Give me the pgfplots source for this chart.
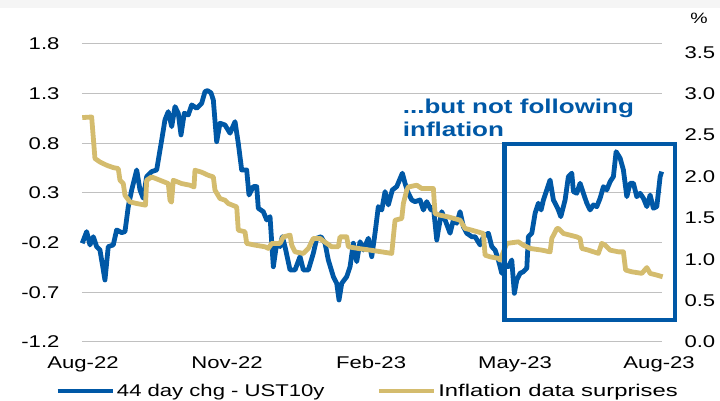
\documentclass[border=0pt]{standalone}
\usepackage{fontspec}
\setmainfont{Liberation Sans}[FakeStretch=1.3]
\usepackage{pgfplots}
\pgfplotsset{compat=1.18}
\definecolor{ustblue}{RGB}{0,88,166}
\definecolor{inftan}{RGB}{212,188,110}
\definecolor{gridgray}{RGB}{192,192,192}

% x = months since Aug-22
\pgfplotstableread{
m v
-0.015 -0.206
0.077 -0.089
0.146 -0.223
0.215 -0.140
0.285 -0.240
0.354 -0.274
0.417 -0.455
0.458 -0.576
0.527 -0.240
0.631 -0.223
0.702 -0.072
0.806 -0.099
0.875 -0.089
0.944 0.163
1.015 0.331
1.119 0.532
1.188 0.331
1.256 0.247
1.327 0.465
1.431 0.515
1.535 0.532
1.640 0.834
1.708 1.036
1.777 1.119
1.848 0.968
1.917 1.170
1.985 1.103
2.042 0.885
2.110 1.103
2.194 1.086
2.265 1.187
2.369 1.153
2.473 1.204
2.542 1.321
2.594 1.331
2.667 1.308
2.715 1.237
2.785 0.817
2.854 1.002
2.958 0.985
3.063 0.902
3.167 1.018
3.235 0.801
3.306 0.532
3.410 0.532
3.458 0.280
3.548 0.364
3.619 0.364
3.652 0.146
3.756 0.112
3.827 0.029
3.896 0.062
3.965 -0.442
4.035 -0.206
4.104 -0.240
4.152 -0.140
4.208 -0.240
4.313 -0.475
4.417 -0.475
4.521 -0.341
4.590 -0.475
4.694 -0.475
4.798 -0.307
4.869 -0.156
4.958 -0.140
5.042 -0.206
5.110 -0.374
5.215 -0.542
5.285 -0.609
5.333 -0.777
5.390 -0.609
5.494 -0.542
5.563 -0.442
5.631 -0.206
5.702 -0.391
5.771 -0.190
5.840 -0.274
5.944 -0.156
6.015 -0.341
6.083 -0.105
6.152 0.163
6.223 0.129
6.292 0.314
6.360 0.180
6.444 0.331
6.535 0.364
6.652 0.499
6.708 0.398
6.777 0.297
6.848 0.230
6.917 0.213
7.021 0.230
7.090 0.129
7.160 0.213
7.250 0.129
7.298 0.163
7.369 -0.173
7.402 -0.072
7.473 0.112
7.542 0.029
7.646 -0.105
7.715 0.029
7.785 -0.005
7.854 0.112
7.923 -0.039
7.994 -0.105
8.098 -0.140
8.167 -0.140
8.271 -0.223
8.340 -0.140
8.444 -0.105
8.515 -0.240
8.583 -0.274
8.652 -0.374
8.723 -0.508
8.792 -0.425
8.860 -0.442
8.931 -0.374
8.985 -0.710
9.035 -0.576
9.104 -0.508
9.173 -0.492
9.244 -0.458
9.277 -0.140
9.348 -0.105
9.417 0.096
9.485 0.197
9.542 0.129
9.590 0.230
9.660 0.331
9.729 0.431
9.798 0.230
9.869 0.163
9.902 0.129
9.952 0.062
10.042 0.230
10.110 0.465
10.181 0.500
10.215 0.314
10.285 0.297
10.354 0.398
10.423 0.297
10.494 0.197
10.563 0.129
10.631 0.180
10.702 0.163
10.771 0.247
10.840 0.364
10.910 0.331
10.979 0.414
11.048 0.465
11.104 0.716
11.188 0.650
11.256 0.532
11.327 0.263
11.396 0.398
11.465 0.398
11.535 0.263
11.604 0.297
11.673 0.247
11.744 0.163
11.813 0.280
11.881 0.146
11.952 0.163
12.021 0.465
12.054 0.515
}\ustchg

\pgfplotstableread{
m r
-0.015 2.711
0.181 2.718
0.250 2.216
0.354 2.175
0.494 2.135
0.631 2.107
0.735 2.095
0.771 1.954
0.840 1.914
0.875 1.773
0.979 1.692
1.119 1.673
1.302 1.653
1.327 1.954
1.431 1.994
1.604 1.954
1.777 1.914
1.813 1.713
1.844 1.689
1.881 1.954
2.056 1.914
2.229 1.894
2.313 1.873
2.333 2.075
2.473 2.051
2.610 2.014
2.715 1.994
2.750 1.834
2.854 1.733
2.958 1.713
3.027 1.673
3.202 1.632
3.235 1.351
3.375 1.331
3.410 1.191
3.583 1.170
3.792 1.150
3.860 1.130
3.931 1.191
4.104 1.191
4.173 1.270
4.313 1.291
4.348 1.170
4.417 1.089
4.590 1.070
4.694 1.130
4.798 1.251
4.938 1.251
5.042 1.206
5.181 1.150
5.319 1.150
5.354 1.270
5.494 1.270
5.527 1.150
5.735 1.130
5.979 1.110
6.223 1.089
6.431 1.070
6.465 1.270
6.500 1.472
6.640 1.492
6.673 1.673
6.744 1.834
6.777 1.873
6.952 1.894
7.056 1.854
7.298 1.854
7.333 1.552
7.438 1.532
7.610 1.511
7.854 1.472
7.958 1.372
8.098 1.351
8.340 1.311
8.375 1.049
8.479 1.029
8.652 1.010
8.688 0.989
8.827 1.191
9.069 1.210
9.173 1.170
9.313 1.130
9.556 1.110
9.729 1.089
9.765 1.251
9.869 1.369
9.902 1.372
10.006 1.311
10.285 1.270
10.354 1.251
10.390 1.130
10.527 1.110
10.735 1.070
10.806 1.191
10.875 1.170
10.979 1.110
11.152 1.089
11.256 1.089
11.302 0.869
11.431 0.848
11.640 0.829
11.744 0.899
11.813 0.829
11.952 0.808
12.073 0.788
}\inflsurp

\begin{document}
\begin{tikzpicture}[x=1pt,y=1pt]
\useasboundingbox (-82,-59) rectangle (638,342);
\fill[black!4] (-82,334) rectangle (638,342);
\pgfplotsset{
  base/.style={
    scale only axis, width=580pt, height=298pt,
    at={(0,0)}, anchor=south west,
    xmin=-0.02, xmax=12.06,
    axis line style={draw=none},
    tick style={draw=none},
    tick label style={font=\fontsize{17}{20}\selectfont, text=black},
    clip=false,
  }
}
\begin{axis}[base,
  ymin=-1.2, ymax=1.8,
  ytick={-1.2,-0.7,-0.2,0.3,0.8,1.3,1.8},
  yticklabels={-1.2,-0.7,-0.2,0.3,0.8,1.3,1.8},
  yticklabel style={xshift=-19pt},
  xtick={0,3,6,9,12},
  xticklabels={Aug-22,Nov-22,Feb-23,May-23,Aug-23},
  xticklabel style={yshift=-11pt},
  ymajorgrids, grid style={gridgray, line width=1pt},
  legend columns=2,
  legend cell align=left,
  legend style={at={(axis description cs:-0.0466,-0.1644)}, anchor=west,
    draw=none, fill=none, font=\fontsize{17}{20}\selectfont,
    inner sep=0pt,
    /tikz/every even column/.append style={column sep=50pt}},
  legend image code/.code={\draw[#1] (0pt,0pt) -- (55pt,0pt);},
]
\addplot[ustblue, line width=4.8pt, line join=round] table[x=m, y=v] {\ustchg};
\addlegendentry{44 day chg - UST10y}
\addlegendimage{inftan, line width=4.8pt}
\addlegendentry{\fontspec{Liberation Sans}[FakeStretch=1.4]Inflation data surprises}
\end{axis}
\begin{axis}[base,
  ymin=0, ymax=3.6,
  ytick={0,0.5,1,1.5,2,2.5,3,3.5},
  yticklabels={0.0,0.5,1.0,1.5,2.0,2.5,3.0,3.5},
  yticklabel pos=right,
  yticklabel style={anchor=west, xshift=19pt},
  xtick=\empty,
]
\addplot[inftan, line width=4.8pt, line join=round] table[x=m, y=r] {\inflsurp};
\end{axis}
\draw[ustblue, line width=4.4pt] (422.5,22) rectangle (592.7,198.2);
\node[anchor=north west, align=left, inner sep=0pt, text=ustblue,
  font=\bfseries\fontsize{20}{22.4}\selectfont] at (320.7,243) {...but not following\\inflation};
\node[font=\fontsize{15}{18}\selectfont] at (617,324) {\%};
\end{tikzpicture}
\end{document}
